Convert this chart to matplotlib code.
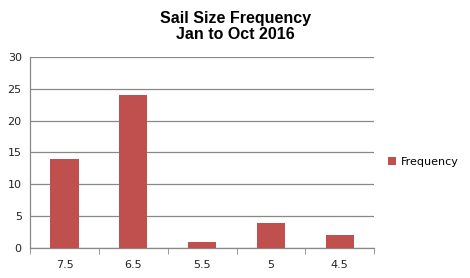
import matplotlib.pyplot as plt
import numpy as np

# sail sizes and how often each was used
sizes = ["7.5", "6.5", "5.5", "5", "4.5"]
frequency = [14, 24, 1, 4, 2]
y_ticks = [0, 5, 10, 15, 20, 25, 30]

bar_col = "#C0504D"
grid_col = "#888888"

fig = plt.figure(figsize=(4.7, 2.78), dpi=100)
ax = fig.add_axes([0.064, 0.108, 0.732, 0.687])

x = np.arange(len(sizes))
ax.bar(x, frequency, width=0.41, color=bar_col, label="Frequency", zorder=3)

ax.set_xlim(-0.5, len(sizes) - 0.5)
ax.set_ylim(0, 30)
ax.set_yticks(y_ticks)
ax.yaxis.grid(True, color=grid_col, linewidth=0.9, zorder=0)
ax.tick_params(axis="y", length=0, labelsize=8, pad=6, colors="#222222")

ax.set_xticks(x)
ax.set_xticklabels(sizes, fontsize=8, color="#222222")
ax.tick_params(axis="x", length=0, pad=9)
# boundary ticks between categories
ax.set_xticks(np.arange(-0.5, len(sizes)), minor=True)
ax.tick_params(axis="x", which="minor", length=4, color=grid_col, direction="out")

for side in ["top", "right"]:
    ax.spines[side].set_visible(False)
for side in ["left", "bottom"]:
    ax.spines[side].set_color(grid_col)
    ax.spines[side].set_linewidth(0.9)

fig.text(0.5, 0.96, "Sail Size Frequency\nJan to Oct 2016", ha="center", va="top",
         fontsize=11.5, fontweight="bold", family="Liberation Sans", linespacing=1.1)

leg = fig.legend(loc="center left", bbox_to_anchor=(0.805, 0.418), frameon=False,
                 fontsize=8, handlelength=0.7, handleheight=0.7, handletextpad=0.4)

fig.savefig("out.png", dpi=100)
